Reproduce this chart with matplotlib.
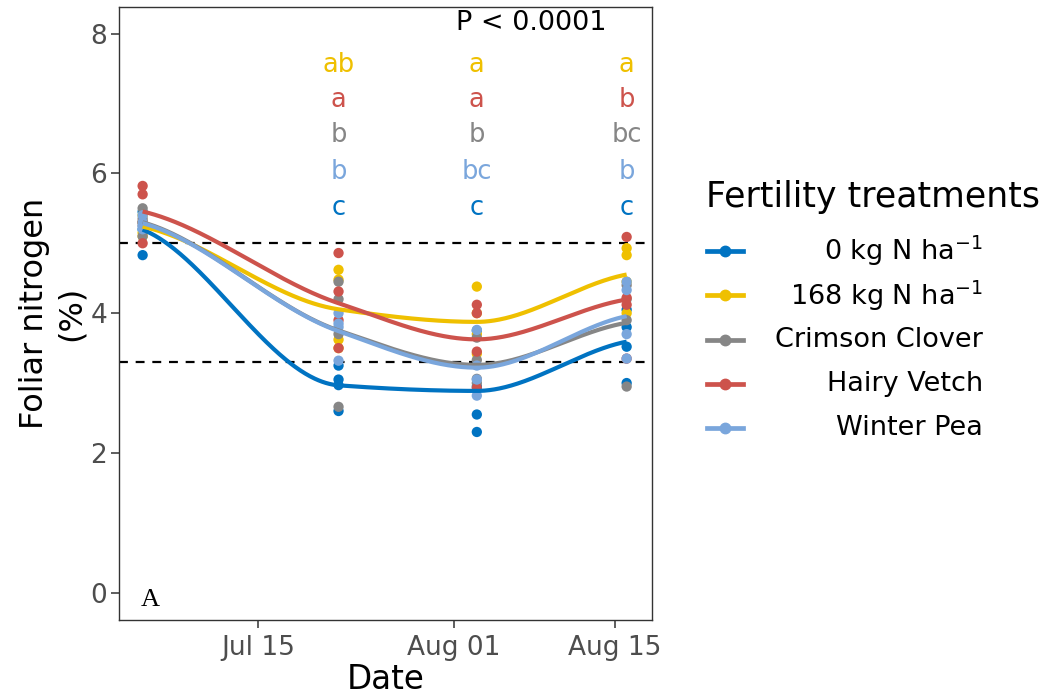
import numpy as np
import matplotlib
matplotlib.use("Agg")
import matplotlib.pyplot as plt
import matplotlib.dates as mdates
from matplotlib.lines import Line2D

FONT = "DejaVu Sans"
plt.rcParams['font.family'] = [FONT]
plt.rcParams['mathtext.fontset'] = 'custom'
plt.rcParams['mathtext.rm'] = FONT

# ---------------- data ----------------
sample_dates = ["2021-07-05", "2021-07-22", "2021-08-03", "2021-08-16"]
treatments = ["0 kg N ha$^{-1}$", "168 kg N ha$^{-1}$", "Crimson Clover",
              "Hairy Vetch", "Winter Pea"]
colors = ["#0073C2", "#EFC000", "#868686", "#CD534C", "#7AA6DC"]

# foliar N (%) replicate values per treatment, per sampling date
n0 = [[5.45, 5.30, 5.20, 4.83], [3.25, 3.05, 2.97, 2.60],
      [3.75, 2.95, 2.55, 2.30], [4.05, 3.80, 3.52, 3.00]]
n168 = [[5.40, 5.30, 5.15, 5.10], [4.62, 4.48, 3.62, 3.50],
        [4.38, 4.00, 3.70, 3.42], [4.93, 4.83, 4.45, 4.00]]
crimson = [[5.50, 5.35, 5.25, 5.10], [4.45, 4.20, 3.70, 2.66],
           [3.65, 3.33, 3.06, 3.00], [4.40, 4.20, 3.90, 2.95]]
vetch = [[5.82, 5.70, 5.30, 5.00], [4.86, 4.31, 3.90, 3.50],
         [4.12, 4.00, 3.45, 2.93], [5.09, 4.22, 4.12, 3.35]]
pea = [[5.40, 5.30, 5.25, 5.20], [4.00, 3.85, 3.80, 3.32],
       [3.76, 3.25, 3.05, 2.82], [4.45, 4.33, 3.70, 3.35]]
series = [n0, n168, crimson, vetch, pea]

letter_dates = ["2021-07-22", "2021-08-03", "2021-08-16"]
letters = [["c", "c", "c"], ["ab", "a", "a"], ["b", "b", "bc"],
           ["a", "a", "b"], ["b", "bc", "b"]]
letter_y = [5.5, 7.55, 6.55, 7.05, 6.02]

thresholds = [5.0, 3.3]


def smooth_curve(x, y, xs):
    """Monotone cubic Hermite (PCHIP interior) with softened end slopes."""
    x = np.asarray(x, float); y = np.asarray(y, float)
    h = np.diff(x); dl = np.diff(y) / h
    n = len(x); d = np.zeros(n)
    for k in range(1, n - 1):
        if dl[k - 1] * dl[k] > 0:
            w1 = 2 * h[k] + h[k - 1]; w2 = h[k] + 2 * h[k - 1]
            d[k] = (w1 + w2) / (w1 / dl[k - 1] + w2 / dl[k])
    d[0] = 0.5 * dl[0]
    d[-1] = 0.6 * dl[-1]
    out = np.empty_like(xs)
    for j, xv in enumerate(xs):
        i = min(max(np.searchsorted(x, xv) - 1, 0), n - 2)
        t = (xv - x[i]) / h[i]
        h00 = 2 * t**3 - 3 * t**2 + 1; h10 = t**3 - 2 * t**2 + t
        h01 = -2 * t**3 + 3 * t**2; h11 = t**3 - t**2
        out[j] = h00 * y[i] + h10 * h[i] * d[i] + h01 * y[i + 1] + h11 * h[i] * d[i + 1]
    return out


xd = mdates.datestr2num(sample_dates)

fig = plt.figure(figsize=(10.56, 7.0), dpi=100)
ax = fig.add_axes([119 / 1056, 80 / 700, 533 / 1056, 613 / 700])

for yv in thresholds:
    ax.axhline(yv, color="black", lw=1.6, ls=(0, (4, 3.5)), zorder=1)

for s, c in zip(series, colors):
    for xi, vals in zip(xd, s):
        ax.scatter([xi] * len(vals), vals, s=55, color=c, edgecolors="none", zorder=2)

xs = np.linspace(xd[0], xd[-1], 400)
for s, c in zip(series, colors):
    means = [np.mean(v) for v in s]
    ax.plot(xs, smooth_curve(xd, means, xs), color=c, lw=3.0, zorder=3,
            solid_capstyle="butt")

lx = mdates.datestr2num(letter_dates)
for labs, c, yv in zip(letters, colors, letter_y):
    for xi, t in zip(lx, labs):
        ax.text(xi, yv, t, color=c, fontsize=18.5, ha="center", va="center", zorder=4)

ax.text(0.773, 0.974, "P < 0.0001", transform=ax.transAxes, fontsize=19.5,
        ha="center", va="center")
ax.text(0.058, 0.033, "A", transform=ax.transAxes, family="Liberation Serif",
        fontsize=19, ha="center", va="center")

ax.set_xlim(mdates.datestr2num(["2021-07-02"])[0] + 0.95,
            mdates.datestr2num(["2021-08-18"])[0] + 0.2)
ax.set_ylim(-0.39, 8.38)
ax.set_xticks(mdates.datestr2num(["2021-07-15", "2021-08-01", "2021-08-15"]))
ax.xaxis.set_major_formatter(mdates.DateFormatter("%b %d"))
ax.set_yticks([0, 2, 4, 6, 8])
ax.tick_params(axis="both", colors="#333333", labelcolor="#4D4D4D", labelsize=19,
               length=5.5, width=1.1)
ax.tick_params(axis="y", pad=3)
ax.tick_params(axis="x", pad=5)
for sp in ax.spines.values():
    sp.set_color("#333333"); sp.set_linewidth(1.0)
ax.set_xlabel("Date", fontsize=23.5, labelpad=2)
ax.set_ylabel("Foliar nitrogen\n(%)", fontsize=23, labelpad=3, linespacing=1.2)

# legend (drawn in figure coords)
fig.text(706 / 1056, 1 - 197 / 700, "Fertility treatments", fontsize=25,
         ha="left", va="center")
for i, (t, c) in enumerate(zip(treatments, colors)):
    yy = 1 - (251 + 44.3 * i) / 700
    fig.add_artist(Line2D([707 / 1056, 743 / 1056], [yy, yy], color=c, lw=3.4,
                          transform=fig.transFigure))
    fig.add_artist(Line2D([725 / 1056], [yy], color=c, marker="o", ms=7.5,
                          transform=fig.transFigure))
    fig.text(983 / 1056, yy, t, fontsize=19.5, ha="right", va="center")

fig.savefig("out.png", dpi=100)
